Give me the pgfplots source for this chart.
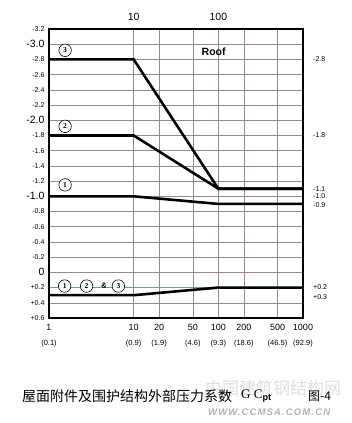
\documentclass[border=0pt]{standalone}
\usepackage{pgfplots}
\pgfplotsset{compat=1.18}
\usepackage{fontspec}
\setmainfont{Liberation Sans}
\newfontfamily\serif{Liberation Serif}
\newfontfamily\cjk{Noto Sans CJK SC}
\definecolor{gridc}{RGB}{150,135,145}
\newcommand\sm[1]{{\fontsize{7}{8}\selectfont #1}}
\newcommand\bg[1]{{\fontsize{10.5}{11}\selectfont #1}}
\newcommand\xl[2]{{\fontsize{9}{10}\selectfont #1}\\[2.5pt]{\fontsize{7.5}{8}\selectfont #2}}
\begin{document}
\begin{tikzpicture}
\path[use as bounding box] (0pt,0pt) rectangle (351pt,-423pt);
\begin{axis}[
  at={(49pt,-318pt)}, anchor=south west, scale only axis,
  width=254pt, height=289pt,
  xmode=log, xmin=1, xmax=1000,
  ymin=-3.2, ymax=0.6, y dir=reverse,
  axis line style={line width=1.2pt},
  xtick={1,10,20,50,100,200,500,1000},
  xticklabels={{\xl{1}{(0.1)}},{\xl{10}{(0.9)}},{\xl{20}{(1.9)}},{\xl{50}{(4.6)}},{\xl{100}{(9.3)}},{\xl{200}{(18.6)}},{\xl{500}{(46.5)}},{\xl{1000}{(92.9)}}},
  xticklabel style={align=center, yshift=-3pt},
  ytick={-3.2,-3.0,-2.8,-2.6,-2.4,-2.2,-2.0,-1.8,-1.6,-1.4,-1.2,-1.0,-0.8,-0.6,-0.4,-0.2,0,0.2,0.4,0.6},
  yticklabels={\sm{-3.2},\bg{-3.0},\sm{-2.8},\sm{-2.6},\sm{-2.4},\sm{-2.2},\bg{-2.0},\sm{-1.8},\sm{-1.6},\sm{-1.4},\sm{-1.2},\bg{-1.0},\sm{-0.8},\sm{-0.6},\sm{-0.4},\sm{-0.2},\bg{0},\sm{+0.2},\sm{+0.4},\sm{+0.6}},
  yticklabel style={xshift=-1pt},
  minor xtick={}, 
  grid=major,
  major grid style={line width=0.5pt, color=gridc},
  tick style={draw=none},
  clip=false,
  /pgf/number format/assume math mode=true,
]
\addplot[line width=2.6pt, black] coordinates {(1,-2.8)(10,-2.8)(100,-1.1)(1000,-1.1)};
\addplot[line width=2.6pt, black] coordinates {(1,-1.8)(10,-1.8)(100,-1.1)(1000,-1.1)};
\addplot[line width=2.6pt, black] coordinates {(1,-1.0)(10,-1.0)(100,-0.9)(1000,-0.9)};
\addplot[line width=2.6pt, black] coordinates {(1,0.3)(10,0.3)(100,0.2)(1000,0.2)};
% top labels
\node[anchor=south, font=\fontsize{10.5}{11}\selectfont] at (axis cs:10,-3.2) [yshift=5pt] {10};
\node[anchor=south, font=\fontsize{10.5}{11}\selectfont] at (axis cs:100,-3.2) [yshift=5pt] {100};
\node[font=\bfseries\fontsize{10.5}{11}\selectfont] at (axis cs:88,-2.9) {Roof};
% circled labels
\tikzset{cl/.style={circle, draw, fill=white, inner sep=0.5pt, minimum size=12.5pt, line width=0.6pt, font=\serif\bfseries\fontsize{7.5}{8}\selectfont}}
\node[cl] at (axis cs:1.55,-2.92) {3};
\node[cl] at (axis cs:1.55,-1.92) {2};
\node[cl] at (axis cs:1.55,-1.15) {1};
\node[cl] at (axis cs:1.53,0.18) {1};
\node[cl] at (axis cs:2.78,0.18) {2};
\node[font=\bfseries\fontsize{8}{8}\selectfont, fill=white, inner sep=0.5pt] at (axis cs:4.45,0.18) {\&};
\node[cl] at (axis cs:6.6,0.18) {3};
% right labels
\tikzset{rl/.style={anchor=west, font=\fontsize{7}{7}\selectfont, inner sep=0pt}}
\node[rl] at (axis cs:1000,-2.8) [xshift=10pt] {-2.8};
\node[rl] at (axis cs:1000,-1.8) [xshift=10pt] {-1.8};
\node[rl] at (axis cs:1000,-1.1) [xshift=10pt] {-1.1};
\node[rl] at (axis cs:1000,-1.0) [xshift=10pt] {-1.0};
\node[rl] at (axis cs:1000,-0.89) [xshift=10pt] {-0.9};
\node[rl] at (axis cs:1000,0.2) [xshift=10pt] {+0.2};
\node[rl] at (axis cs:1000,0.33) [xshift=10pt] {+0.3};
\end{axis}
% watermark
\node[text=gray!25, font=\cjk\fontsize{17}{17}\selectfont, inner sep=0pt, anchor=west] at (205pt,-388pt) {中国建筑钢结构网};
\node[text=gray!60, font=\bfseries\itshape\fontsize{9.5}{10}\selectfont\addfontfeature{LetterSpace=12}, inner sep=0pt, anchor=west] at (208pt,-412pt) {WWW.CCMSA.COM.CN};
% caption
\node[anchor=west, inner sep=0pt, font=\cjk\fontsize{14}{14}\selectfont] at (22pt,-396pt) {屋面附件及围护结构外部压力系数};
\node[anchor=west, inner sep=0pt, font=\serif\fontsize{13}{13}\selectfont] at (241pt,-396pt) {G C$_{\mathbf{pt}}$};
\node[anchor=west, inner sep=0pt, font=\cjk\fontsize{12}{12}\selectfont] at (308pt,-396pt) {图-4};
\end{tikzpicture}
\end{document}
